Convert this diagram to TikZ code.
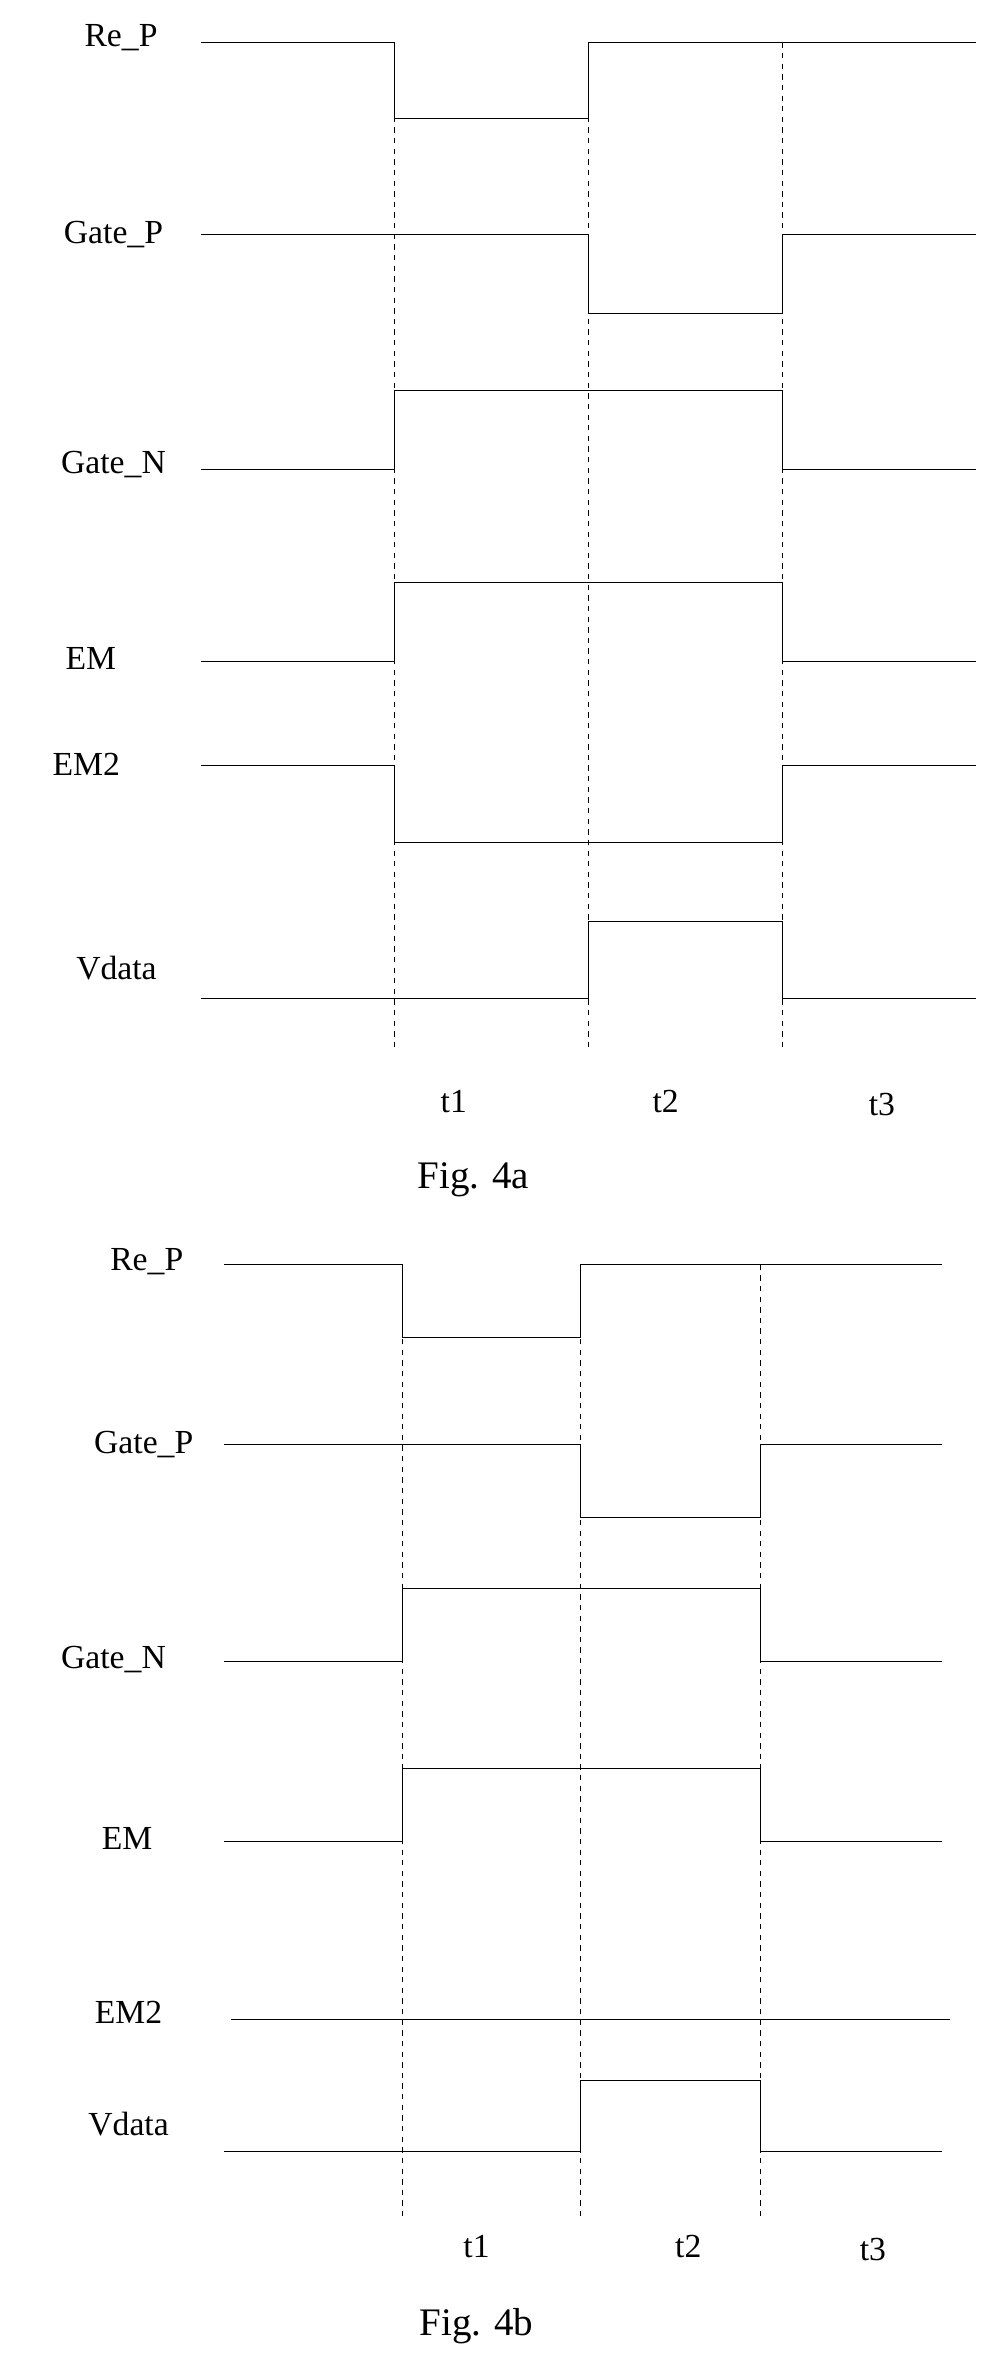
\documentclass[tikz,border=0pt]{standalone}
\usepackage{fontspec}
\setmainfont{Liberation Serif}
\usetikzlibrary{positioning}
\begin{document}
\begin{tikzpicture}[x=0.03cm, y=-0.03cm, thin,
    lbl/.style={font=\fontsize{19}{22}\selectfont, inner sep=0pt},
    figcap/.style={font=\fontsize{22}{26}\selectfont, inner sep=0pt},
    sig/.style={line width=0.5pt},
    guide/.style={dashed, line width=0.5pt}]
    \useasboundingbox (0,0) rectangle (660,1570);

    % Fig. 4a labels
    \node[lbl] (reP) at (80,25) {Re\_P};
    \node[lbl] (gP) at (75,155) {Gate\_P};
    \node[lbl] (gN) at (75,307) {Gate\_N};
    \node[lbl] (em) at (60,435) {EM};
    \node[lbl] (emT) at (57,505) {EM2};
    \node[lbl] (vd) at (77,640) {Vdata};

    % Fig. 4a waveforms
    \draw[sig] (133,28) -- (261,28) -- (261,78) -- (389,78) -- (389,28) -- (645,28);
    \draw[sig] (133,155) -- (389,155) -- (389,207) -- (517,207) -- (517,155) -- (645,155);
    \draw[sig] (133,310) -- (261,310) -- (261,258) -- (517,258) -- (517,310) -- (645,310);
    \draw[sig] (133,437) -- (261,437) -- (261,385) -- (517,385) -- (517,437) -- (645,437);
    \draw[sig] (133,506) -- (261,506) -- (261,557) -- (517,557) -- (517,506) -- (645,506);
    \draw[sig] (133,660) -- (389,660) -- (389,609) -- (517,609) -- (517,660) -- (645,660);
    \foreach \x in {261,389,517}
        \draw[guide] (\x,28) -- (\x,695);

    \node[lbl] (tA) at (300,728) {t1};
    \node[lbl] (tB) at (440,728) {t2};
    \node[lbl] (tC) at (583,730) {t3};
    \node[figcap] (figA) at (313,780) {Fig. 4a};

    % Fig. 4b labels
    \node[lbl] (reP2) at (97,834) {Re\_P};
    \node[lbl] (gP2) at (95,955) {Gate\_P};
    \node[lbl] (gN2) at (75,1097) {Gate\_N};
    \node[lbl] (em2) at (84,1215) {EM};
    \node[lbl] (emT2) at (85,1330) {EM2};
    \node[lbl] (vd2) at (85,1404) {Vdata};

    % Fig. 4b waveforms
    \draw[sig] (148,836) -- (266,836) -- (266,884) -- (384,884) -- (384,836) -- (623,836);
    \draw[sig] (148,955) -- (384,955) -- (384,1003) -- (503,1003) -- (503,955) -- (623,955);
    \draw[sig] (148,1098) -- (266,1098) -- (266,1050) -- (503,1050) -- (503,1098) -- (623,1098);
    \draw[sig] (148,1217) -- (266,1217) -- (266,1169) -- (503,1169) -- (503,1217) -- (623,1217);
    \draw[sig] (153,1335) -- (628,1335);
    \draw[sig] (148,1422) -- (384,1422) -- (384,1375) -- (503,1375) -- (503,1422) -- (623,1422);
    \foreach \x in {266,384,503}
        \draw[guide] (\x,836) -- (\x,1465);

    \node[lbl] (tA2) at (315,1485) {t1};
    \node[lbl] (tB2) at (455,1485) {t2};
    \node[lbl] (tC2) at (577,1487) {t3};
    \node[figcap] (figB) at (315,1538) {Fig. 4b};
\end{tikzpicture}
\end{document}
